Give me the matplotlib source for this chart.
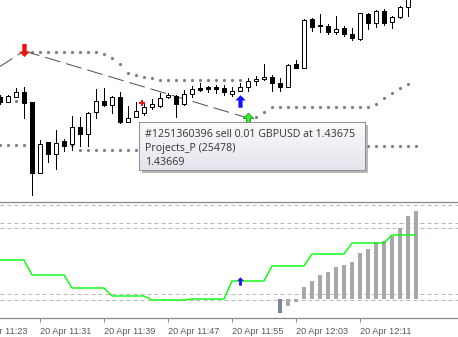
import numpy as np
import matplotlib
matplotlib.use("Agg")
import matplotlib.pyplot as plt
from matplotlib.path import Path
from matplotlib.patches import Rectangle

W, H = 458, 337
PX = 72 / 100  # one screen pixel in points

# 1-minute GBPUSD bars, bar 0 = 20 Apr 11:26.  Prices are kept as chart rows
# (0 = top of price pane, larger = lower price).
bar_open = [97, 102, 97, 92, 102, 173, 142, 154, 141, 144, 127, 134, 112, 101,
            105, 97, 122, 117, 113, 107, 106, 97, 96, 104, 94, 87.5, 87, 87, 88,
            94, 91, 87, 81, 79, 77, 83, 87, 64, 68, 19, 25, 26, 31.5, 28, 34, 39,
            13.5, 23, 11, 22, 17, 7]
bar_high = [95, 95, 88, 87, 102, 140, 142, 130, 139, 116, 117, 112, 89, 88, 96,
            92, 106, 102, 103, 99, 93, 93, 95, 90, 86, 83, 85.5, 85, 85, 87, 83,
            78, 76, 64, 75, 78, 64, 60, 19, 18, 14, 24, 16, 26, 28, 13, 13, 10, 9,
            15.5, 5.5, -6]
bar_low = [104, 102, 97, 118, 195, 173, 162, 169, 151, 150, 146, 146, 118, 106,
           113, 123, 122, 117, 115, 109, 107, 98, 117, 105, 97, 91, 92, 93, 95,
           96, 91, 91, 85, 80, 91, 91, 87, 68, 68, 31, 32, 34, 34, 36, 40, 39.5,
           29, 27, 25, 28, 18, 16]
bar_close = [102, 96, 92, 103, 173, 144, 154, 143, 146, 127, 134, 113, 101, 105,
             97, 122, 118, 111, 107, 104, 98, 95, 104, 94, 89, 89.5, 88.5, 89, 92,
             91, 87, 81, 79, 77, 83, 87, 65, 68, 20, 27, 26, 32, 28.5, 34, 37.5,
             13, 23, 11, 23, 17, 7, -3]

# dotted channel lines: (bar, row)
upper_bars = [3, 4, 5, 6, 7, 8, 9, 10, 11, 12, 13, 14, 15, 16, 17, 18, 19, 20,
              21, 22, 23, 24, 25, 26, 27, 28, 29, 30]
upper_rows = [52, 52, 52, 52, 52, 52, 52, 52, 52, 52, 54, 58, 64, 73, 75, 77,
              78, 80, 80, 80, 80, 80, 80, 80, 80, 80, 80, 80]
support_bars = [0, 1, 2, 31, 32, 33, 34, 35, 36, 37, 38, 39, 40, 41, 42, 43, 44,
                45, 46, 47, 48, 49, 50, 51]
support_rows = [101, 101, 101, 118, 117, 112, 107, 107, 107, 107, 107, 107, 107,
                107, 107, 107, 107, 107, 107, 104, 98, 93, 88, 84]
outer_bars = [0, 1, 2, 3, 4, 5, 6, 7, 8, 9, 10, 11, 12, 13, 14, 15, 16, 17,
              46, 47, 48, 49, 50, 51, 52]
outer_rows = [145, 145, 145, 145, 145, 145, 145, 145, 145, 145, 150, 150, 150,
              150, 150, 150, 150, 150, 146, 146, 146, 146, 146, 146, 146]

# trade history lines (bar, row) and signal arrows
trade_bars = [[-4, 3], [3, 31]]
trade_rows = [[87, 51], [51, 118]]
sell_signal = (3, 50)
buy_signal = (30, 101)
close_signal = (31, 119)
open_mark = (17.7, 103)

# lower oscillator window (rows of the lower pane)
osc_rows = [260, 260, 260, 260, 275, 275, 275, 275, 275, 288, 288, 288, 288,
            288, 296, 296, 296, 296, 296, 300, 300, 300, 300, 300, 299, 299, 299,
            299, 299, 281, 281, 281, 281, 281, 266, 266, 266, 266, 266, 254, 254,
            254, 254, 254, 243, 243, 243, 243, 243, 235, 235, 235, 235]
hist_bars = [35, 36, 37, 38, 39, 40, 41, 42, 43, 44, 45, 46, 47, 48, 49, 50, 51, 52]
hist_rows = [313, 306, 302, 287, 281, 275, 272, 267, 265, 262, 253, 249, 242,
             241, 236, 228, 216, 211]
hist_zero = 299
levels = [205, 223, 228, 294, 300]
osc_buy = (30, 281)

tick_bars = [-3, 5, 13, 21, 29, 37, 45]
tick_labels = ["20 Apr 11:23", "20 Apr 11:31", "20 Apr 11:39", "20 Apr 11:47",
               "20 Apr 11:55", "20 Apr 12:03", "20 Apr 12:11"]

tip_lines = ["#1251360396 sell 0.01 GBPUSD at 1.43675", "Projects_P (25478)",
             "1.43669"]

plt.rcParams["lines.scale_dashes"] = False


def arrow(up=True):
    v = [(-0.5, 0.1), (0, 0.6), (0.5, 0.1), (0.2, 0.1), (0.2, -0.6),
         (-0.2, -0.6), (-0.2, 0.1), (-0.5, 0.1)]
    if not up:
        v = [(a, -b) for a, b in v]
    return Path(v, closed=True)


fig = plt.figure(figsize=(W / 100, H / 100), dpi=100)
ax = fig.add_axes([0, 1 - 202 / H, 1, 202 / H])
low = fig.add_axes([0, 1 - 318 / H, 1, 116 / H], sharex=ax)
ax.axis("off")

# candles
x = np.arange(len(bar_open))
o = np.array(bar_open, float)
c = np.array(bar_close, float)
bull = c < o
ax.vlines(x, bar_high, bar_low, color="black", lw=PX, antialiased=False, zorder=3)
ax.bar(x, c - o, bottom=o, width=0.6, color=np.where(bull, "white", "black"),
       edgecolor="black", linewidth=PX, zorder=4)

dot = dict(ls="none", marker="o", ms=2.3, mew=0, color="#7d7f8e", zorder=2)
ax.plot(upper_bars, upper_rows, **dot)
ax.plot(support_bars, support_rows, **dot)
ax.plot(outer_bars, outer_rows, **dot)

for tx, ty in zip(trade_bars, trade_rows):
    ax.plot(tx, ty, color="#505050", lw=PX, dashes=(16 * PX, 6 * PX), zorder=2)

ax.plot(*sell_signal, marker=arrow(False), ms=9.5, color="#ee1111", mew=0, zorder=6)
ax.plot(*buy_signal, marker=arrow(True), ms=9, color="#1010ff", mew=0, zorder=6)
ax.plot(*close_signal, marker=arrow(True), ms=9, color="#33ee33", mec="#109910",
        mew=0.6, zorder=6)
ax.plot(*open_mark, marker="P", ms=4.5, color="#ee1111", mew=0, zorder=6)

# lower window
for lv in levels:
    low.axhline(lv, color="#b8b8b8", lw=PX, dashes=(4 * PX, 3 * PX), zorder=1)
low.plot(np.arange(len(osc_rows)), osc_rows, color="#00ff00", lw=1.0, zorder=3)
hv = hist_zero - np.array(hist_rows, float)
prev = np.concatenate([[0], hv[:-1]])
hcol = np.where(hv < prev, "#7a8797", "#a8a8a8")
low.bar(hist_bars, -hv, bottom=hist_zero, width=0.4, color=hcol, zorder=2)
low.plot(*osc_buy, marker=arrow(True), ms=6, color="#1010ff", mew=0, zorder=5)

for side in ("left", "right"):
    low.spines[side].set_visible(False)
for side in ("top", "bottom"):
    low.spines[side].set_color("#8a8a8a")
    low.spines[side].set_linewidth(PX * 1.3)
low.set_yticks([])
low.set_xticks(tick_bars)
low.set_xticklabels([])
low.tick_params(axis="x", length=4 * PX, width=PX, color="#8a8a8a")
# time labels sit to the right of their tick; the first one is cut by the edge
for tb, lab in zip(tick_bars, tick_labels):
    low.text(tb, -0.075, lab, transform=low.get_xaxis_transform(), ha="left",
             va="top", fontsize=6.6, color="#5a5a5a", family="Liberation Sans",
             clip_on=False)

# 8 screen pixels per 1-minute bar
ax.set_xlim(0, W / 8)
ax.set_ylim(202, 0)
low.set_ylim(318, 202)

# hover tooltip
tx0, ty0, tw, th = 139, 122, 226, 48
fig.add_artist(Rectangle(((tx0 + 3) / W, 1 - (ty0 + th + 3) / H), tw / W, th / H,
                         transform=fig.transFigure, color="#9a9a9a", alpha=0.7,
                         lw=0, zorder=4))
tip = fig.add_axes([tx0 / W, 1 - (ty0 + th) / H, tw / W, th / H], zorder=5)
grad = np.linspace(0, 1, 50).reshape(-1, 1)
tip.imshow(grad, aspect="auto", extent=(0, 1, 0, 1), cmap=matplotlib.colors.
           LinearSegmentedColormap.from_list("tip", ["#fbfbfd", "#e4e4ec"]))
tip.set_xticks([]); tip.set_yticks([])
for s in tip.spines.values():
    s.set_color("#8f8f8f"); s.set_linewidth(PX)
for line, yb in zip(tip_lines, [0.694, 0.402, 0.104]):
    tip.text(0.027, yb, line, transform=tip.transAxes, va="baseline", ha="left",
             fontsize=7.7, family="Open Sans", color="#333333")

fig.savefig("out.png", dpi=100)
